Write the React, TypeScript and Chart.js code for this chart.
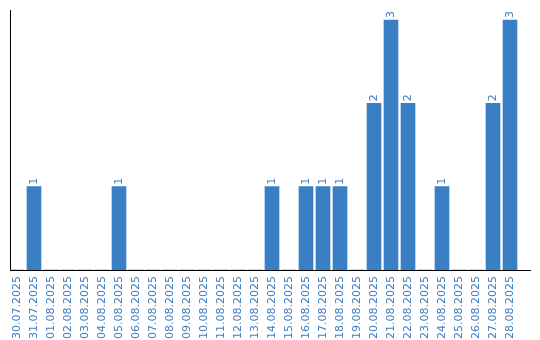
import React, { useEffect, useRef } from "react";
import { Chart, registerables } from "chart.js";

Chart.register(...registerables);

const dates: string[] = [
  "30.07.2025", "31.07.2025", "01.08.2025", "02.08.2025", "03.08.2025",
  "04.08.2025", "05.08.2025", "06.08.2025", "07.08.2025", "08.08.2025",
  "09.08.2025", "10.08.2025", "11.08.2025", "12.08.2025", "13.08.2025",
  "14.08.2025", "15.08.2025", "16.08.2025", "17.08.2025", "18.08.2025",
  "19.08.2025", "20.08.2025", "21.08.2025", "22.08.2025", "23.08.2025",
  "24.08.2025", "25.08.2025", "26.08.2025", "27.08.2025", "28.08.2025",
];

const counts: number[] = [
  0, 1, 0, 0, 0,
  0, 1, 0, 0, 0,
  0, 0, 0, 0, 0,
  1, 0, 1, 1, 1,
  0, 2, 3, 2, 0,
  1, 0, 0, 2, 3,
];

const BLUE = "#3a7fc3";
const FONT = "'DejaVu Sans', sans-serif";

const valueLabels = {
  id: "valueLabels",
  afterDatasetsDraw(chart: any) {
    const ctx = chart.ctx;
    const meta = chart.getDatasetMeta(0);
    ctx.save();
    ctx.fillStyle = BLUE;
    ctx.font = "11px " + FONT;
    ctx.textAlign = "left";
    ctx.textBaseline = "middle";
    meta.data.forEach((bar: any, i: number) => {
      const v = counts[i];
      if (!v) return;
      ctx.save();
      ctx.translate(bar.x, bar.y - 2);
      ctx.rotate(-Math.PI / 2);
      ctx.fillText(String(v), 0, 0);
      ctx.restore();
    });
    ctx.restore();
  },
};

export default function App() {
  const ref = useRef<HTMLCanvasElement>(null);
  useEffect(() => {
    document.body.style.margin = "0";
    const chart = new Chart(ref.current as HTMLCanvasElement, {
      type: "bar",
      data: {
        datasets: [
          {
            data: counts.map((c, i) => ({ x: i, y: c })),
            backgroundColor: BLUE,
            barThickness: 14,
          },
        ],
      },
      options: {
        responsive: false,
        animation: false,
        layout: { padding: { left: 0, top: 10, right: 10, bottom: 0 } },
        plugins: { legend: { display: false }, tooltip: { enabled: false } },
        scales: {
          x: {
            type: "linear",
            offset: false,
            min: -7 / 17,
            max: -7 / 17 + 520 / 17,
            grid: { display: false, drawTicks: false },
            border: { display: true, color: "#000", width: 1 },
            afterBuildTicks: (scale: any) => {
              scale.ticks = dates.map((_, i) => ({ value: i }));
            },
            afterFit: (scale: any) => {
              scale.height = 70;
              scale.paddingLeft = 0;
              scale.paddingRight = 0;
            },
            ticks: {
              autoSkip: false,
              maxRotation: 90,
              minRotation: 90,
              padding: 6,
              color: BLUE,
              font: { family: FONT, size: 11 },
              callback: (v: any) => dates[v] ?? "",
            },
          },
          y: {
            min: 0,
            max: 3.12,
            grid: { display: false, drawTicks: false },
            border: { display: true, color: "#000", width: 1 },
            ticks: { display: false },
            afterFit: (scale: any) => {
              scale.width = 10;
            },
          },
        },
      },
      plugins: [valueLabels],
    });
    return () => chart.destroy();
  }, []);
  return <canvas ref={ref} width={540} height={340} />;
}
